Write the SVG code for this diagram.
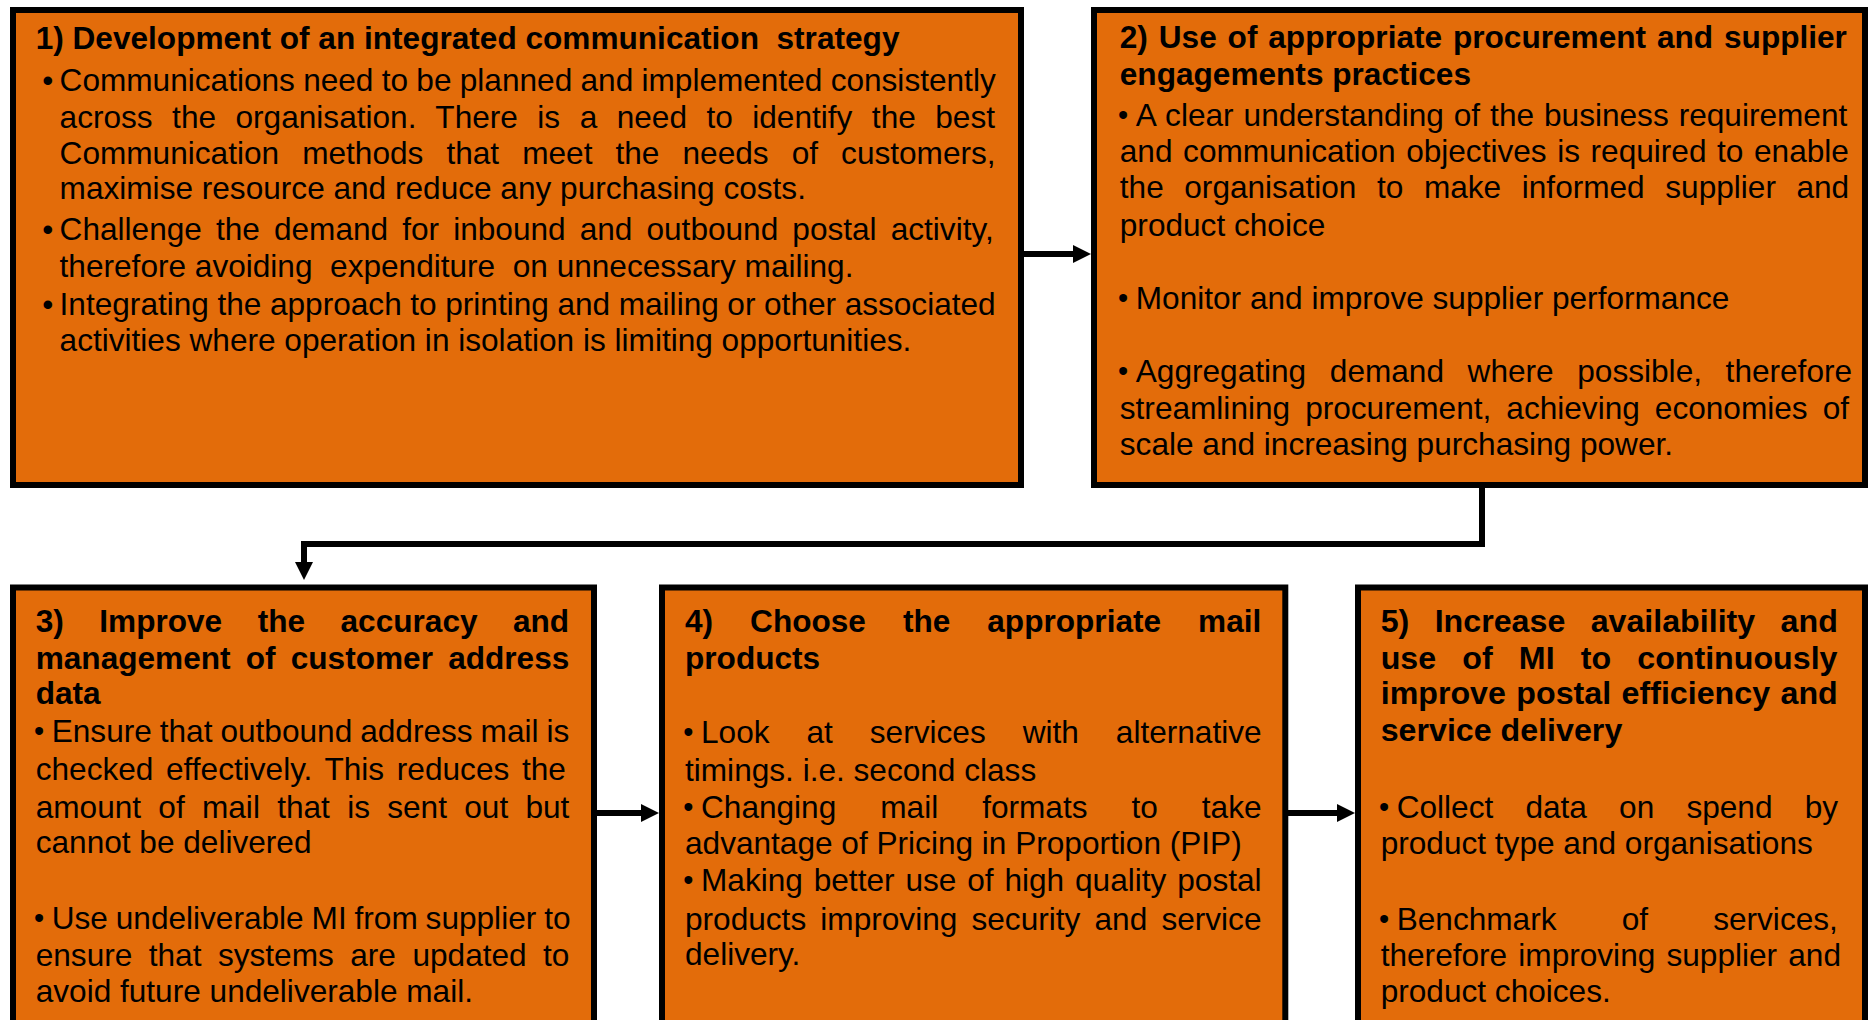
<svg xmlns="http://www.w3.org/2000/svg" width="1868" height="1020" viewBox="0 0 1868 1020">
  <style>
    .box { fill: #E36C0A; stroke: #000; stroke-width: 6; }
    .t { font-family: "Liberation Sans", Arial, sans-serif; font-size: 31.6px; fill: #000; }
    .b { font-weight: bold; }
    .b5 { font-size: 32.2px; }
    .dot { font-size: 29px; }
    .wire { fill: none; stroke: #000; stroke-width: 6; stroke-linejoin: miter; }
  </style>
  <defs>
    <marker id="head" markerUnits="userSpaceOnUse" markerWidth="19" markerHeight="19" refX="1" refY="9" orient="auto">
      <path d="M0,0 L18,9 L0,18 z" fill="#000"/>
    </marker>
  </defs>

  <rect width="1868" height="1020" fill="#fff"/>

  <!-- Step 1 -->
  <g id="step1">
    <rect class="box" x="13" y="10" width="1008" height="475"/>
    <text class="t b" x="35.7" y="49">1) Development of an integrated communication<tspan dx="8.8"> strategy</tspan></text>
    <text class="t" x="42.2" y="91">•</text>
    <text class="t" x="42.2" y="240">•</text>
    <text class="t" x="42.2" y="315">•</text>
    <text class="t" x="59.6" y="91" style="word-spacing:-0.5px">Communications need to be planned and implemented consistently</text>
    <text class="t" x="59.6" y="127.5" style="word-spacing:10.7px">across the organisation. There is a need to identify the best</text>
    <text class="t" x="59.6" y="163.5" style="word-spacing:14.3px">Communication methods that meet the needs of customers,</text>
    <text class="t" x="59.6" y="199">maximise resource and reduce any purchasing costs.</text>
    <text class="t" x="59.6" y="240" style="word-spacing:5.3px">Challenge the demand for inbound and outbound postal activity,</text>
    <text class="t" x="59.6" y="276.5" xml:space="preserve">therefore avoiding  expenditure  on unnecessary mailing.</text>
    <text class="t" x="59.6" y="315" style="word-spacing:-0.2px">Integrating the approach to printing and mailing or other associated</text>
    <text class="t" x="59.6" y="350.5">activities where operation in isolation is limiting opportunities.</text>
  </g>

  <!-- Step 2 -->
  <g id="step2">
    <rect class="box" x="1094" y="10" width="771" height="475"/>
    <text class="t b" x="1119.8" y="48" style="word-spacing:2.1px">2) Use of appropriate procurement and supplier</text>
    <text class="t b" x="1119.8" y="85">engagements practices</text>
    <text class="t dot" x="1118" y="125">•</text>
    <text class="t" x="1135.8" y="126" style="word-spacing:1.2px">A clear understanding of the business requirement</text>
    <text class="t" x="1119.8" y="162" style="word-spacing:1.8px">and communication objectives is required to enable</text>
    <text class="t" x="1119.8" y="198" style="word-spacing:11.8px">the organisation to make informed supplier and</text>
    <text class="t" x="1119.8" y="236">product choice</text>
    <text class="t dot" x="1118" y="308">•</text>
    <text class="t" x="1135.8" y="309">Monitor and improve supplier performance</text>
    <text class="t dot" x="1118" y="381">•</text>
    <text class="t" x="1135.8" y="382" style="word-spacing:14.85px">Aggregating demand where possible, therefore</text>
    <text class="t" x="1119.8" y="419" style="word-spacing:6.25px">streamlining procurement, achieving economies of</text>
    <text class="t" x="1119.8" y="455">scale and increasing purchasing power.</text>
  </g>

  <!-- Step 3 -->
  <g id="step3">
    <rect class="box" x="13" y="587.5" width="581" height="460"/>
    <text class="t b" x="35.7" y="632" style="word-spacing:26.7px">3) Improve the accuracy and</text>
    <text class="t b" x="35.7" y="669" style="word-spacing:6.4px">management of customer address</text>
    <text class="t b" x="35.7" y="704">data</text>
    <text class="t dot" x="34" y="741">•</text>
    <text class="t" x="51.7" y="742" style="word-spacing:-0.8px">Ensure that outbound address mail is</text>
    <text class="t" x="35.7" y="780" style="word-spacing:3.9px">checked effectively. This reduces the</text>
    <text class="t" x="35.7" y="818" style="word-spacing:8.5px">amount of mail that is sent out but</text>
    <text class="t" x="35.7" y="853">cannot be delivered</text>
    <text class="t dot" x="34" y="928">•</text>
    <text class="t" x="51.7" y="929" style="word-spacing:-0.9px">Use undeliverable MI from supplier to</text>
    <text class="t" x="35.7" y="966" style="word-spacing:7.7px">ensure that systems are updated to</text>
    <text class="t" x="35.7" y="1002">avoid future undeliverable mail.</text>
  </g>

  <!-- Step 4 -->
  <g id="step4">
    <rect class="box" x="662" y="587.5" width="623.3" height="460"/>
    <text class="t b" x="685" y="632" style="word-spacing:28.2px">4) Choose the appropriate mail</text>
    <text class="t b" x="685" y="669">products</text>
    <text class="t dot" x="683.2" y="741.5">•</text>
    <text class="t" x="701" y="742.5" style="word-spacing:28.2px">Look at services with alternative</text>
    <text class="t" x="685" y="780.6">timings. i.e. second class</text>
    <text class="t dot" x="683.2" y="816.5">•</text>
    <text class="t" x="701" y="817.5" style="word-spacing:35.2px">Changing mail formats to take</text>
    <text class="t" x="685" y="854.4">advantage of Pricing in Proportion (PIP)</text>
    <text class="t dot" x="683.2" y="890.4">•</text>
    <text class="t" x="701" y="891.4" style="word-spacing:2.1px">Making better use of high quality postal</text>
    <text class="t" x="685" y="929.5" style="word-spacing:5.4px">products improving security and service</text>
    <text class="t" x="685" y="965">delivery.</text>
  </g>

  <!-- Step 5 -->
  <g id="step5">
    <rect class="box" x="1358" y="587.5" width="507" height="460"/>
    <text class="t b b5" x="1380.7" y="632" style="word-spacing:16.4px">5) Increase availability and</text>
    <text class="t b b5" x="1380.7" y="669" style="word-spacing:17.2px">use of MI to continuously</text>
    <text class="t b b5" x="1380.7" y="704" style="word-spacing:1.5px">improve postal efficiency and</text>
    <text class="t b b5" x="1380.7" y="741">service delivery</text>
    <text class="t dot" x="1379" y="816.5">•</text>
    <text class="t" x="1396.7" y="817.5" style="word-spacing:23.4px">Collect data on spend by</text>
    <text class="t" x="1380.7" y="854.4">product type and organisations</text>
    <text class="t dot" x="1379" y="928.5">•</text>
    <text class="t" x="1396.7" y="929.5" style="word-spacing:56.4px">Benchmark of services,</text>
    <text class="t" x="1380.7" y="966.4" style="word-spacing:2.4px">therefore improving supplier and</text>
    <text class="t" x="1380.7" y="1002">product choices.</text>
  </g>

  <!-- Flow between the steps -->
  <g id="connectors">
    <path class="wire" d="M1024,254 H1074" marker-end="url(#head)"/>
    <path class="wire" d="M1482,487 V544 H304 V563" marker-end="url(#head)"/>
    <path class="wire" d="M591,813 H642" marker-end="url(#head)"/>
    <path class="wire" d="M1288,813 H1338" marker-end="url(#head)"/>
  </g>
</svg>
